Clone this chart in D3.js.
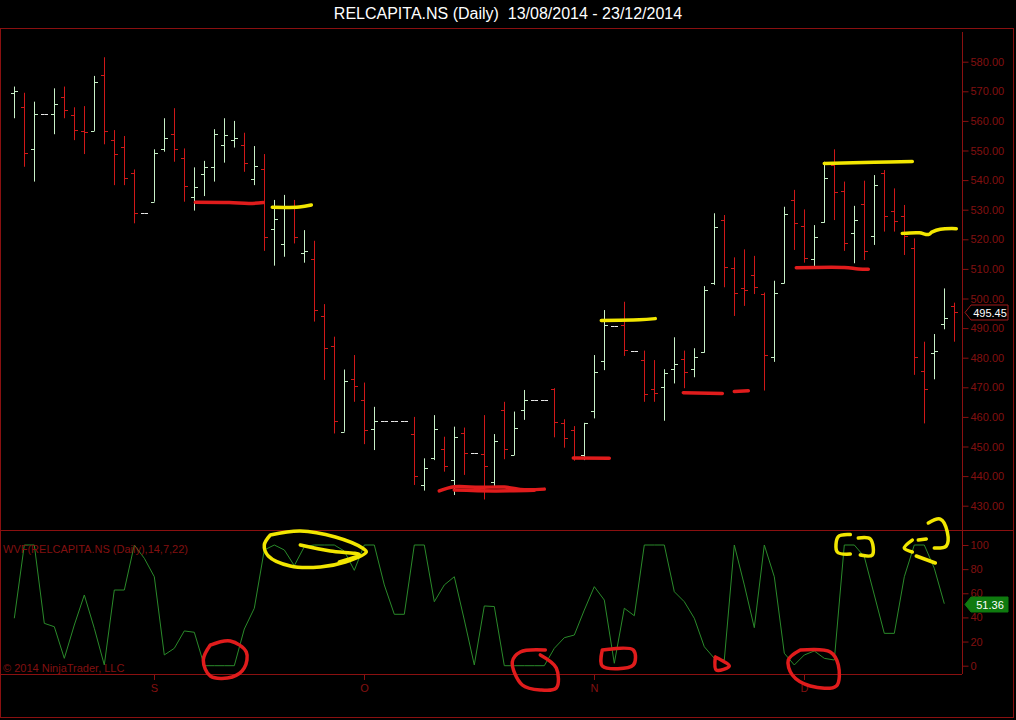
<!DOCTYPE html>
<html>
<head>
<meta charset="utf-8">
<script src="https://cdn.jsdelivr.net/npm/d3@7"></script>
<style>
  body { margin: 0; background: #000; }
  svg { display: block; font-family: Arial, "Liberation Sans", sans-serif; }
</style>
</head>
<body>
<div id="chart"></div>
<script>
// RELCAPITA.NS daily bars, index 0 = first bar on the chart
var opens  = [569.3,564.6,550.4,562.3,562.3,568.2,562.0,556.6,556.6,575.5,553.5,551.3,542.5,529.0,532.7,550.4,555.6,547.4,534.2,542.0,
              544.3,551.9,553.5,551.9,540.3,543.6,523.4,518.3,531.0,515.3,513.2,494.2,484.1,455.0,472.7,465.7,455.8,458.6,458.6,458.6,
              454.1,437.0,446.0,449.0,438.7,454.7,447.7,447.5,438.1,462.3,447.1,462.5,465.7,465.7,469.5,457.8,455.6,447.0,462.1,479.0,
              490.8,491.0,482.4,479.2,469.3,470.0,476.1,479.5,476.1,482.0,505.1,526.5,510.2,503.4,507.9,501.5,480.3,505.1,533.3,524.5,
              513.2,525.9,545.0,536.4,522.2,531.9,521.1,542.3,529.7,528.0,517.0,475.6,481.7,491.4,497.5];
var highs  = [571.6,569.5,566.5,562.3,571.0,571.6,564.6,565.0,575.2,581.5,556.9,554.9,543.6,529.0,550.4,560.9,564.3,550.7,544.3,546.5,
              557.2,560.9,560.0,556.0,551.5,548.8,533.3,535.0,533.3,523.1,519.5,498.1,487.1,476.0,480.9,471.6,463.4,458.6,458.6,458.6,
              460.0,446.0,460.6,453.3,456.7,456.4,447.7,460.6,454.2,465.1,461.8,469.1,465.7,465.7,469.7,459.2,456.9,458.0,480.9,496.1,
              490.8,498.9,482.4,482.4,479.2,476.1,486.9,482.4,483.2,504.2,528.8,528.2,513.9,516.6,514.4,502.0,506.0,531.0,536.7,530.1,
              524.8,546.2,550.4,539.5,531.3,539.8,541.7,543.4,537.2,531.6,520.3,485.4,488.0,503.4,498.6];
var lows   = [560.9,544.5,539.5,562.3,555.5,560.9,553.5,548.8,556.6,552.1,538.3,538.3,525.4,529.0,532.7,549.6,546.2,532.7,529.7,534.6,
              539.5,545.9,551.0,542.8,538.3,516.1,511.1,514.1,518.6,512.1,492.2,472.5,454.4,455.0,465.1,450.8,448.8,458.6,458.6,458.6,
              437.0,435.1,445.4,441.5,433.6,440.4,447.7,432.1,436.4,445.7,447.1,459.0,465.7,465.7,453.1,449.6,445.2,445.4,459.5,475.8,
              490.8,480.6,482.4,465.1,465.1,458.7,471.3,469.7,473.4,481.7,504.6,503.8,494.1,497.5,501.5,468.9,478.6,505.1,516.4,512.1,
              511.0,525.6,526.5,516.1,511.9,513.0,518.1,522.6,522.6,514.7,474.2,457.8,472.7,489.6,485.4];
var closes = [570.0,549.1,562.3,562.3,565.7,563.7,556.9,556.4,573.0,556.7,548.8,540.6,529.0,529.0,549.1,554.1,550.4,538.0,537.8,544.3,
              555.5,555.2,554.1,545.7,544.9,520.9,526.9,531.3,520.9,516.0,496.1,483.2,458.7,472.1,470.5,455.6,458.6,458.6,458.6,458.6,
              440.0,442.6,455.8,443.4,453.3,447.7,447.7,443.4,452.0,449.0,456.1,465.7,465.7,465.7,458.4,452.8,446.6,457.8,475.3,491.0,
              490.8,482.6,482.4,467.7,468.0,474.9,477.9,475.3,480.1,502.9,524.0,510.5,502.0,502.9,503.8,480.9,502.0,528.5,525.6,513.8,
              520.7,540.6,536.1,518.9,526.5,516.1,538.3,527.9,526.3,521.0,480.1,469.3,482.4,493.3,495.45];

// WVF(14,7,22) - not plotted on the last (open) bar
var wvf = [39.3,100,100,35.1,32.3,6.1,33.7,58.6,31,0.6,62.7,62.7,100,89,73.7,8.9,14.4,28.8,27.7,0,
           0,0,0,30.4,47.6,95.9,100,95.9,82.9,98.6,100,100,100,95,79,100,100,66.9,42.6,42.6,
           100,100,53,66.9,73.7,37.9,0.6,49.5,49,0,0,0,0,0,14.4,23.2,25.4,46.1,65.5,54.4,
           2,47.6,41.4,100,100,100,61.3,53,39.3,15.7,6.1,4.7,100,66.9,31.5,100,73.7,10.3,0.6,8.9,
           12.2,6.1,4.7,100,100,90.3,58.6,26.8,26.8,73.7,100,100,80.7,51.36];

var priceTicks = [430,440,450,460,470,480,490,500,510,520,530,540,550,560,570,580];
var wvfTicks = [0,20,40,60,80,100];
var monthIdx = [14,35,58,79];
var monthLabels = ["S","O","N","D"];

// hand drawn marks on the screenshot, in (bar index, price) / (bar index, wvf) units
var priceRedMarks = [
  [[18.1,532.5],[21.5,532.4],[23.5,532.1],[24.9,532.4]],
  [[66.9,468.2],[70.8,467.9]],
  [[72.0,468.6],[73.4,468.8]],
  [[55.9,446.1],[59.5,446.0]],
  [[42.5,435.0],[44.0,436.4],[46.5,436.2],[49.0,436.3],[51.0,435.4],[53.0,435.6]],
  [[44.0,435.3],[48.0,435.0],[52.0,435.2]],
  [[78.2,510.4],[83.0,510.5],[84.4,510.0],[85.4,509.9]]
];
var priceYellowMarks = [
  [[25.8,530.8],[28.5,530.9],[29.7,531.6]],
  [[58.7,492.6],[62.5,492.8],[64.1,493.2]],
  [[81.0,545.6],[86.0,546.0],[89.8,546.3]],
  [[88.8,522.0],[90.5,522.2],[91.4,521.6],[91.8,522.5],[92.6,523.4],[94.2,523.6]]
];
var wvfRedMarks = [
  [[19.6,17.1],[21.6,20.5],[23.2,11.4],[23.0,-1.9],[21.8,-9.4],[19.6,-8.5],[18.9,4.7],[19.6,17.1]],
  [[53.1,13.0],[50.6,11.4],[49.8,3.1],[50.8,-16],[52.6,-20.1],[54.2,-18.5],[54.2,-1.9],[52.6,8.9]],
  [[58.8,13.0],[61.9,13.0],[61.9,0.6],[58.8,-0.2],[58.8,13.0]],
  [[70.1,7.2],[71.5,-0.2],[70.2,-3.6],[70.1,7.2]],
  [[78.6,13.0],[81.6,11.4],[82.4,0.6],[82.2,-16.8],[79.6,-16.8],[77.8,-7.7],[77.4,4.7],[78.6,13.0]]
];
var wvfYellowMarks = [
  [[25.6,108.3],[28.6,111.6],[32.1,106.6],[34.8,97.5],[35.2,94.2],[33.1,85.9],[30.6,81.8],[27.6,82.6],[25.4,90.9],[25.0,100],[25.6,108.3]],
  [[28.6,100],[31.6,95],[34.5,92],[32.5,86]],
  [[83.6,108.6],[82.4,106.9],[82.3,94.2],[83.6,92.5]],
  [[84.4,105.8],[85.6,105.0],[85.8,91.7],[84.6,91.7]],
  [[89.8,104.1],[89.0,97.5],[89.8,94.2]],
  [[90.4,104.1],[91.2,105.0]],
  [[91.4,118.2],[92.6,121.5],[93.3,110.8],[93.2,99.2],[92.0,97.5]],
  [[90.2,90.9],[92.1,85.1]]
];

var W = 1016, H = 720;
var axisX = 962;

var svg = d3.select("#chart").append("svg")
    .attr("width", W)
    .attr("height", H);

svg.append("rect").attr("width", W).attr("height", H).attr("fill", "#000");

var x = d3.scaleLinear().domain([0, 94]).range([14.3, 954.3]);
var yP = d3.scaleLinear().domain([580, 430]).range([61.7, 505.7]);
var yI = d3.scaleLinear().domain([100, 0]).range([545, 665.7]);

var frameCol = "#8a1010";
var textCol = "#821010";

// title
svg.append("text")
    .attr("x", 508).attr("y", 19)
    .attr("text-anchor", "middle")
    .attr("fill", "#fff")
    .style("font-size", "16px")
    .style("white-space", "pre")
    .text("RELCAPITA.NS (Daily)  13/08/2014 - 23/12/2014");

// frames
svg.append("rect")
    .attr("x", 0.5).attr("y", 28.5)
    .attr("width", 1013).attr("height", 689)
    .attr("fill", "none").attr("stroke", frameCol);
svg.append("line")
    .attr("x1", 0).attr("x2", 1014).attr("y1", 530.5).attr("y2", 530.5)
    .attr("stroke", frameCol);
svg.append("line")
    .attr("x1", 0).attr("x2", axisX).attr("y1", 674.5).attr("y2", 674.5)
    .attr("stroke", frameCol);
svg.append("line")
    .attr("x1", axisX + 0.5).attr("x2", axisX + 0.5).attr("y1", 32).attr("y2", 674)
    .attr("stroke", frameCol);

// price axis
var pAxis = svg.append("g")
    .attr("transform", "translate(" + (axisX + 0.5) + ",0)")
    .call(d3.axisRight(yP).tickValues(priceTicks).tickFormat(d3.format(".2f")).tickSize(6).tickPadding(2));
pAxis.select(".domain").remove();
pAxis.selectAll("line").attr("stroke", frameCol);
pAxis.selectAll("text").attr("fill", textCol).style("font-size", "11px").style("font-family", "Arial, 'Liberation Sans'");

// wvf axis
var iAxis = svg.append("g")
    .attr("transform", "translate(" + (axisX + 0.5) + ",0)")
    .call(d3.axisRight(yI).tickValues(wvfTicks).tickFormat(d3.format("d")).tickSize(6).tickPadding(2));
iAxis.select(".domain").remove();
iAxis.selectAll("line").attr("stroke", frameCol);
iAxis.selectAll("text").attr("fill", textCol).style("font-size", "11px").style("font-family", "Arial, 'Liberation Sans'");

// month ticks
var months = svg.append("g").selectAll("g")
    .data(monthIdx)
    .enter().append("g")
    .attr("transform", function(d) { return "translate(" + (Math.round(x(d)) + 0.5) + ",0)"; });
months.append("line")
    .attr("y1", 674).attr("y2", 680)
    .attr("stroke", frameCol);
months.append("text")
    .attr("y", 692)
    .attr("text-anchor", "middle")
    .attr("fill", textCol)
    .style("font-size", "11px")
    .text(function(d, i) { return monthLabels[i]; });

// OHLC bars
var bars = d3.range(opens.length).map(function(i) {
    return { i: i, o: opens[i], h: highs[i], l: lows[i], c: closes[i] };
});
function barColor(d) {
    if (d.c > d.o) return "#c8f0c8";
    if (d.c < d.o) return "#d01818";
    return "#e8e8e8";
}
var barG = svg.append("g").selectAll("g")
    .data(bars)
    .enter().append("g")
    .attr("stroke", barColor);
barG.filter(function(d) { return d.h > d.l; })
    .append("line")
    .attr("x1", function(d) { return Math.round(x(d.i)) + 0.5; })
    .attr("x2", function(d) { return Math.round(x(d.i)) + 0.5; })
    .attr("y1", function(d) { return yP(d.h); })
    .attr("y2", function(d) { return yP(d.l); });
barG.append("line")
    .attr("x1", function(d) { return Math.round(x(d.i)) - 3; })
    .attr("x2", function(d) { return Math.round(x(d.i)) + 0.5; })
    .attr("y1", function(d) { return Math.round(yP(d.o)) + 0.5; })
    .attr("y2", function(d) { return Math.round(yP(d.o)) + 0.5; });
barG.append("line")
    .attr("x1", function(d) { return Math.round(x(d.i)) + 0.5; })
    .attr("x2", function(d) { return Math.round(x(d.i)) + 4; })
    .attr("y1", function(d) { return Math.round(yP(d.c)) + 0.5; })
    .attr("y2", function(d) { return Math.round(yP(d.c)) + 0.5; });

// wvf line
svg.append("path")
    .datum(wvf)
    .attr("fill", "none")
    .attr("stroke", "#2a8a2a")
    .attr("stroke-width", 1)
    .attr("d", d3.line().x(function(d, i) { return x(i); }).y(function(d) { return yI(d); }));

// panel texts
svg.append("text")
    .attr("x", 3).attr("y", 553)
    .attr("fill", textCol)
    .style("font-size", "11px")
    .text("WVF(RELCAPITA.NS (Daily),14,7,22)");
svg.append("text")
    .attr("x", 3).attr("y", 672)
    .attr("fill", textCol)
    .style("font-size", "11px")
    .text("\u00a9 2014 NinjaTrader, LLC");

// last value markers
function marker(yPos, label, fill, stroke, color) {
    var g = svg.append("g").attr("transform", "translate(" + (axisX + 3) + "," + yPos + ")");
    g.append("path")
        .attr("d", "M0,0 L6,-7.5 L43,-7.5 L43,7.5 L6,7.5 Z")
        .attr("fill", fill)
        .attr("stroke", stroke);
    g.append("text")
        .attr("x", 25).attr("y", 4)
        .attr("text-anchor", "middle")
        .attr("fill", color)
        .style("font-size", "11px")
        .text(label);
}
marker(Math.round(yP(closes[closes.length - 1])) + 0.5, d3.format(".2f")(closes[closes.length - 1]), "#000", "#a01818", "#fff");
marker(Math.round(yI(wvf[wvf.length - 1])) + 0.5, d3.format(".2f")(wvf[wvf.length - 1]), "#0f7a0f", "#0f7a0f", "#fff");

// hand-drawn marks
var pLine = d3.line().curve(d3.curveCatmullRom)
    .x(function(d) { return x(d[0]); }).y(function(d) { return yP(d[1]); });
var iLine = d3.line().curve(d3.curveCatmullRom)
    .x(function(d) { return x(d[0]); }).y(function(d) { return yI(d[1]); });

svg.append("g").selectAll("path").data(priceRedMarks).enter().append("path")
    .attr("d", pLine).attr("fill", "none").attr("stroke", "#e01c1c")
    .attr("stroke-width", 3.5).attr("stroke-linecap", "round");
svg.append("g").selectAll("path").data(priceYellowMarks).enter().append("path")
    .attr("d", pLine).attr("fill", "none").attr("stroke", "#f2e600")
    .attr("stroke-width", 3.5).attr("stroke-linecap", "round");
svg.append("g").selectAll("path").data(wvfRedMarks).enter().append("path")
    .attr("d", iLine).attr("fill", "none").attr("stroke", "#e01c1c")
    .attr("stroke-width", 3.5).attr("stroke-linecap", "round").attr("stroke-linejoin", "round");
svg.append("g").selectAll("path").data(wvfYellowMarks).enter().append("path")
    .attr("d", iLine).attr("fill", "none").attr("stroke", "#f2e600")
    .attr("stroke-width", 3.5).attr("stroke-linecap", "round").attr("stroke-linejoin", "round");
</script>
</body>
</html>
